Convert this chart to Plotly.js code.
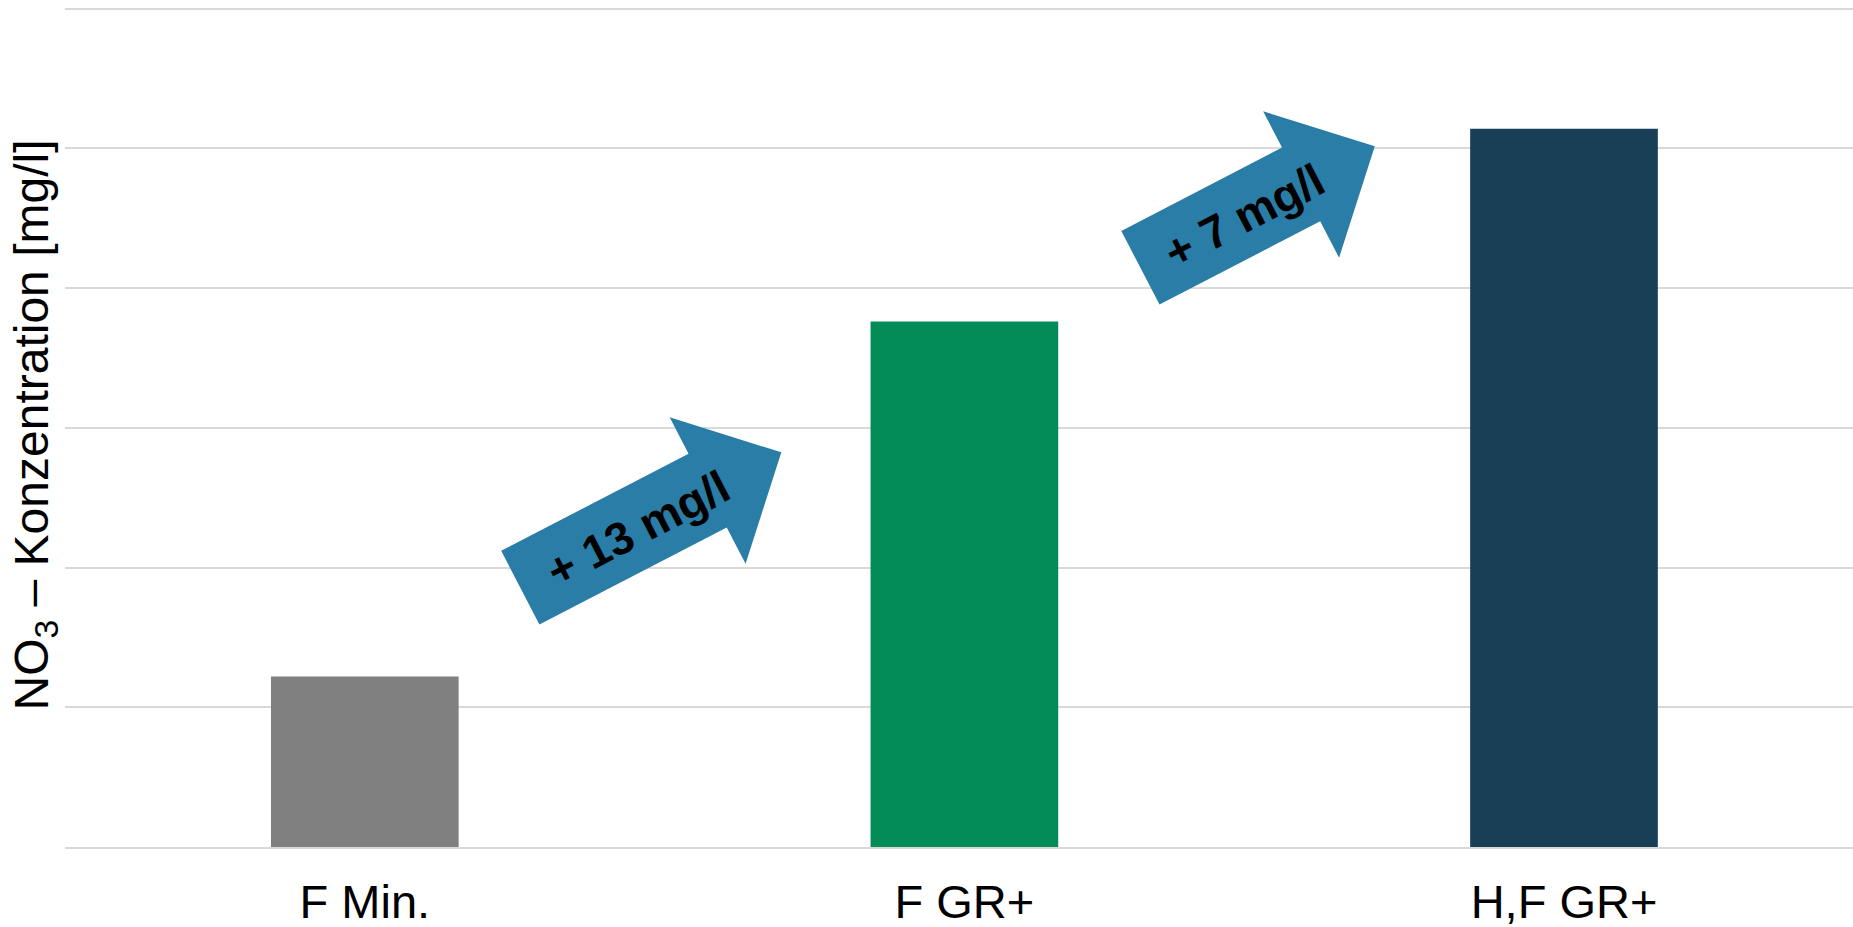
<!DOCTYPE html>
<html>
<head>
<meta charset="utf-8">
<script src="https://cdn.plot.ly/plotly-3.0.1.min.js"></script>
<style>
  html, body { margin: 0; padding: 0; background: #ffffff; }
  #chart { width: 1853px; height: 927px; }
</style>
</head>
<body>
<div id="chart"></div>
<script>
// Nitrate concentration per variant
const categories = ["F Min.", "F GR+", "H,F GR+"];
const no3Values = [6.1, 18.8, 25.7];
const barColors = ["#808080", "#038C57", "#183F55"];

// Plot frame
const W = 1853, H = 927;
const M = { l: 65, r: 0, t: 3, b: 80 };
const xRange = [-0.5, 2.482];
const yRange = [0, 30.2];
const plotW = W - M.l - M.r;
const plotH = H - M.t - M.b;

// pixel <-> data helpers (linear axes with fixed ranges)
const x2px = x => M.l + (x - xRange[0]) / (xRange[1] - xRange[0]) * plotW;
const y2px = y => M.t + (yRange[1] - y) / (yRange[1] - yRange[0]) * plotH;
const px2x = p => xRange[0] + (p - M.l) / plotW * (xRange[1] - xRange[0]);
const py2y = p => yRange[1] - (p - M.t) / plotH * (yRange[1] - yRange[0]);

// Block arrow between two neighbouring bars, built in screen pixels
const ARROW_ANGLE = 27.4 * Math.PI / 180;
const SHAFT_HALF = 41.5, HEAD_HALF = 82.5, HEAD_LEN = 83;
const arrowSpecs = [
  { from: 0, cx: 0.477, cy: 11.7, len: 294 },
  { from: 1, cx: 1.489, cy: 22.9, len: 264 }
];

const shapes = [];
const annotations = [];
arrowSpecs.forEach(a => {
  const cx = x2px(a.cx), cy = y2px(a.cy);
  const ux = Math.cos(ARROW_ANGLE), uy = -Math.sin(ARROW_ANGLE);
  const nx = Math.sin(ARROW_ANGLE), ny = Math.cos(ARROW_ANGLE);
  const pt = (along, across) => [cx + ux * along + nx * across, cy + uy * along + ny * across];
  const tail = -a.len / 2, base = a.len / 2 - HEAD_LEN, tip = a.len / 2;
  const pts = [
    pt(tail, SHAFT_HALF), pt(tail, -SHAFT_HALF),
    pt(base, -SHAFT_HALF), pt(base, -HEAD_HALF),
    pt(tip, 0),
    pt(base, HEAD_HALF), pt(base, SHAFT_HALF)
  ];
  const path = pts.map((p, i) => (i ? "L" : "M") + px2x(p[0]).toFixed(5) + "," + py2y(p[1]).toFixed(5)).join(" ") + " Z";
  shapes.push({
    type: "path", xref: "x", yref: "y", path: path,
    fillcolor: "#297DA7", line: { width: 0 }, layer: "above"
  });
  const diff = Math.round(no3Values[a.from + 1] - no3Values[a.from]);
  const tc = pt(-16, 2);
  annotations.push({
    xref: "x", yref: "y", x: px2x(tc[0]), y: py2y(tc[1]),
    text: "<b>+ " + diff + " mg/l</b>", showarrow: false,
    textangle: -27.4,
    font: { family: "Liberation Sans, Arial, sans-serif", size: 46, color: "#000000" }
  });
});

const trace = {
  type: "bar",
  x: categories,
  y: no3Values,
  width: 0.313,
  marker: { color: barColors, line: { width: 0 } },
  hoverinfo: "skip"
};

const layout = {
  width: W, height: H,
  margin: M,
  paper_bgcolor: "#ffffff",
  plot_bgcolor: "#ffffff",
  showlegend: false,
  font: { family: "Liberation Sans, Arial, sans-serif", color: "#000000" },
  xaxis: {
    type: "category",
    range: xRange,
    showgrid: false,
    zeroline: false,
    showline: true,
    linecolor: "#D9D9D9",
    linewidth: 2,
    ticks: "",
    ticklabelstandoff: 13,
    tickfont: { size: 47, color: "#000000" },
    fixedrange: true
  },
  yaxis: {
    range: yRange,
    tick0: 0,
    dtick: 5,
    showgrid: true,
    gridcolor: "#D9D9D9",
    gridwidth: 2,
    zeroline: false,
    showticklabels: false,
    ticks: "",
    title: {
      text: "NO<sub>3</sub> – Konzentration [mg/l]",
      font: { size: 48, color: "#000000" },
      standoff: 0
    },
    automargin: false,
    fixedrange: true
  },
  shapes: shapes,
  annotations: annotations
};

Plotly.newPlot("chart", [trace], layout, { displayModeBar: false, staticPlot: true });
</script>
</body>
</html>
